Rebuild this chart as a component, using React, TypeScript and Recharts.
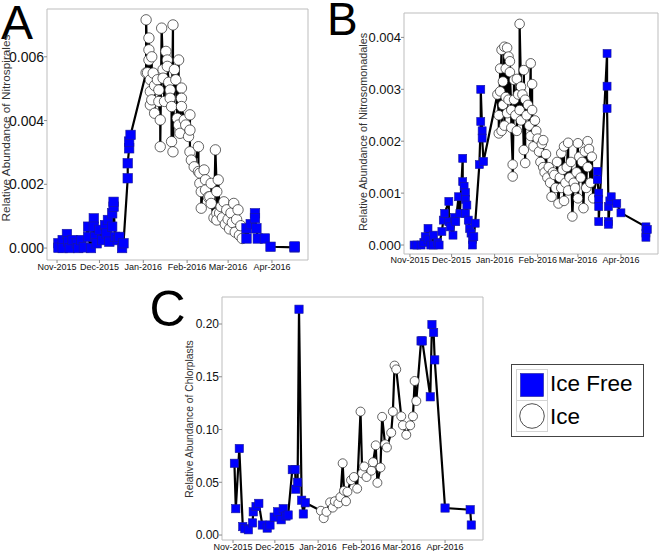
import React from "react";
import { ScatterChart, Scatter, XAxis, YAxis, ReferenceArea } from "recharts";

// x = days since 1 Nov 2015, y = relative abundance
const monthTicks = [0, 30, 61, 92, 121, 152];
const monthLabels = ["Nov-2015", "Dec-2015", "Jan-2016", "Feb-2016", "Mar-2016", "Apr-2016"];

const nitrospiralesIceFree: [number, number][] = [
  [1, 0.00015], [1, 0.00001], [4, 0.00025], [4, 0.0], [7, 0.00044], [8, 0.00021], [9, 0.0],
  [11, 0.00025], [14, 0.00015], [15, 0.0], [17, 0.00025], [19, 0.00002], [22, 0.00067], [22, 0.00035],
  [24, 0.0], [26, 0.00093], [26, 0.00067], [27, 0.00035], [28, 0.00015], [30, 0.00057], [32, 0.00025],
  [34, 0.00072], [35, 0.00046], [36, 0.00088], [37, 0.0002], [39, 0.00109], [39, 0.00067], [40, 0.0013],
  [40, 0.00145], [41, 0.00035], [43, 0.00025], [44, 0.00035], [46, 0.0], [47, 0.00015],
  [50, 0.00219], [50, 0.00266], [51, 0.00313], [51, 0.00334], [52, 0.00355],
  [134, 0.00062], [134, 0.0003], [137, 0.00075], [140, 0.00109], [140, 0.00094], [141, 0.00062],
  [142, 0.0003], [147, 0.0003], [151, 0.00004], [168, 0.00002], [168, 0.00005],
];
const nitrospiralesIce: [number, number][] = [
  [63, 0.0055], [63, 0.00716], [64, 0.0055], [65, 0.00659], [65, 0.00622], [65, 0.0059], [66, 0.00528],
  [66, 0.00491], [66, 0.00449], [67, 0.006], [67, 0.00465], [68, 0.00549], [69, 0.00423], [69, 0.0051],
  [71, 0.00528], [72, 0.00496], [72, 0.0046], [73, 0.00402], [73, 0.00318], [74, 0.0069], [75, 0.0056],
  [75, 0.00533], [76, 0.0046], [77, 0.00617], [78, 0.0059], [78, 0.0057], [79, 0.0052], [80, 0.00496],
  [80, 0.0047], [81, 0.00444], [81, 0.00334], [82, 0.007], [82, 0.00302], [83, 0.0056], [84, 0.00528],
  [85, 0.00407], [86, 0.0059], [86, 0.00386], [87, 0.0036], [88, 0.00502], [88, 0.0047], [88, 0.00444],
  [90, 0.00402], [91, 0.00386], [93, 0.0035], [94, 0.00418], [94, 0.0037], [94, 0.00302], [95, 0.00276],
  [97, 0.00255], [100, 0.00318], [100, 0.0024], [101, 0.00235], [101, 0.00203], [102, 0.00177],
  [102, 0.00125], [104, 0.00245], [105, 0.00214], [105, 0.00182], [107, 0.0016], [108, 0.00161],
  [109, 0.00203], [109, 0.0014], [111, 0.00095], [112, 0.00308], [113, 0.00177], [113, 0.00109],
  [113, 0.00088], [114, 0.00214], [115, 0.0011], [116, 0.0013], [117, 0.00095], [118, 0.00145],
  [119, 0.00075], [120, 0.0012], [121, 0.0009], [122, 0.0006], [123, 0.0011], [124, 0.0008],
  [125, 0.0014], [126, 0.0005], [127, 0.0009], [128, 0.0012], [129, 0.0004], [130, 0.0007], [131, 0.0003],
];

const nitrosomonadalesIceFree: [number, number][] = [
  [3, 0.0], [5, 0.0], [8, 0.0], [10, 0.00005], [11, 0.00016], [13, 0.00032], [13, 0.0001], [15, 0.0],
  [17, 0.00019], [17, 0.0], [20, 0.00005], [21, 0.0], [23, 0.00026], [24, 0.00048], [25, 0.00061],
  [28, 0.00084], [28, 0.00045], [29, 0.00035], [31, 0.00019], [32, 0.00053], [33, 0.00045], [35, 0.00093],
  [36, 0.00061], [38, 0.00167], [38, 0.00122], [39, 0.00113], [40, 0.00101], [40, 0.00088], [40, 0.00061],
  [41, 0.00077], [42, 0.00048], [43, 0.00032], [44, 0.00023], [45, 0.00011], [45, 0.0], [46, 0.00016],
  [47, 0.00042], [50, 0.00155], [51, 0.00238], [51, 0.003], [52, 0.0022], [52, 0.00206], [53, 0.00161],
  [135, 0.00142], [135, 0.00126], [136, 0.001], [136, 0.00088], [136, 0.00074], [136, 0.00045],
  [142, 0.00369], [142, 0.00306], [142, 0.00263], [143, 0.00074], [143, 0.00045], [143, 0.0004],
  [144, 0.00085], [145, 0.00093], [149, 0.0008], [152, 0.00062], [170, 0.00035], [170, 0.00023],
  [170, 0.00015], [171, 0.0003],
];
const nitrosomonadalesIce: [number, number][] = [
  [63, 0.0029], [64, 0.0025], [64, 0.00215], [65, 0.0034], [65, 0.00296], [66, 0.00376], [66, 0.0022],
  [67, 0.00315], [67, 0.0027], [68, 0.00382], [68, 0.0023], [69, 0.0034], [69, 0.00285], [70, 0.0038],
  [70, 0.00254], [71, 0.00363], [71, 0.0028], [72, 0.00354], [72, 0.00333], [73, 0.0026], [73, 0.00226],
  [74, 0.00155], [74, 0.00132], [75, 0.00318], [75, 0.0028], [76, 0.0025], [77, 0.0032], [77, 0.0022],
  [78, 0.0029], [79, 0.0026], [79, 0.00426], [80, 0.00305], [80, 0.0024], [81, 0.0029], [82, 0.00183],
  [82, 0.00337], [83, 0.00158], [83, 0.0028], [84, 0.0025], [85, 0.0027], [86, 0.0023], [87, 0.0035],
  [87, 0.0021], [88, 0.0031], [88, 0.0026], [89, 0.0019], [90, 0.0024], [91, 0.0022], [92, 0.00205],
  [93, 0.0018], [94, 0.0016], [95, 0.00195], [96, 0.00202], [96, 0.0015], [97, 0.0014], [98, 0.00175],
  [99, 0.0013], [100, 0.0015], [101, 0.0012], [102, 0.00093], [103, 0.0014], [104, 0.00135],
  [105, 0.0011], [106, 0.0016], [107, 0.0008], [108, 0.0013], [109, 0.00177], [109, 0.0011],
  [110, 0.00145], [111, 0.0019], [111, 0.00085], [112, 0.0012], [113, 0.0015], [114, 0.00197],
  [114, 0.00105], [115, 0.0013], [116, 0.0016], [117, 0.00055], [118, 0.0012], [119, 0.0011],
  [120, 0.0014], [121, 0.00196], [121, 0.0009], [122, 0.0017], [123, 0.0013], [124, 0.0016],
  [125, 0.00071], [126, 0.0018], [127, 0.0011], [128, 0.002], [128, 0.0015], [129, 0.00185],
  [130, 0.0012], [131, 0.0017], [132, 0.0009],
];

const chloroplastIceFree: [number, number][] = [
  [1, 0.068], [2, 0.025], [4.5, 0.082], [7, 0.008], [8.5, 0.006], [11, 0.005], [14, 0.0115], [14.5, 0.022],
  [16.5, 0.027], [18.5, 0.03], [21, 0.0095], [24.5, 0.0066], [26.5, 0.0095], [29.5, 0.017], [32, 0.022],
  [34.5, 0.0145], [36, 0.025], [38, 0.018], [39.5, 0.019], [42.5, 0.062], [44.5, 0.062], [45, 0.0435],
  [46.3, 0.05], [47.3, 0.214], [49.2, 0.033], [50.4, 0.02], [51.8, 0.0306],
  [134.8, 0.184], [135.7, 0.184], [141.4, 0.131], [142.6, 0.1995], [143.8, 0.192], [144.6, 0.166],
  [152, 0.0256], [170, 0.024], [170.8, 0.0095],
];
const chloroplastIce: [number, number][] = [
  [63, 0.023], [65, 0.016], [67, 0.022], [69.6, 0.031], [71.5, 0.026], [73, 0.032], [75.5, 0.03],
  [77, 0.036], [78.6, 0.068], [79.6, 0.042], [81, 0.032], [82, 0.041], [84.6, 0.052], [86.7, 0.055],
  [89, 0.044], [91.4, 0.117], [92.6, 0.0585], [94, 0.065], [95.7, 0.055], [99.2, 0.061], [100.4, 0.069],
  [102.3, 0.085], [103.5, 0.0495], [105.7, 0.064], [106.9, 0.112], [109, 0.086], [110.3, 0.083],
  [113.4, 0.097], [114.6, 0.117], [115.8, 0.1606], [117, 0.157], [120.6, 0.1125], [121.8, 0.104],
  [124.2, 0.095], [127, 0.104], [129, 0.1125], [130.2, 0.146], [131.4, 0.127],
];

const FONT = "'Liberation Sans', Arial, Helvetica, sans-serif";
const BLUE = "#0000ff";

const toPts = (arr: [number, number][]) => arr.map(([d, v]) => ({ d, v }));

interface PanelProps {
  left: number;
  top: number;
  width: number;
  height: number;
  marginTop: number;
  yWidth: number;
  iceFree: [number, number][];
  ice: [number, number][];
  xDomain: [number, number];
  yDomain: [number, number];
  yTicks: number[];
  digits: number;
  yFont: number;
  square: number;
  radius: number;
  tickMargin: number;
}

function Panel(p: PanelProps) {
  const all = [...p.iceFree, ...p.ice].sort((a, b) => a[0] - b[0]);
  const s = p.square;
  return (
    <div style={{ position: "absolute", left: p.left, top: p.top }}>
      <ScatterChart
        width={p.width}
        height={p.height}
        margin={{ top: p.marginTop, right: 12, bottom: 0, left: 0 }}
      >
        <XAxis
          type="number"
          dataKey="d"
          domain={p.xDomain}
          ticks={monthTicks}
          interval={0}
          allowDataOverflow
          tickFormatter={(t: number) => monthLabels[monthTicks.indexOf(t)]}
          axisLine={false}
          tickLine={{ stroke: "#8c8c8c" }}
          tickSize={3}
          tickMargin={p.tickMargin}
          height={20}
          tick={{ fontSize: 9, fill: "#111", fontFamily: FONT }}
        />
        <YAxis
          type="number"
          dataKey="v"
          domain={p.yDomain}
          ticks={p.yTicks}
          interval={0}
          allowDataOverflow
          tickFormatter={(t: number) => t.toFixed(p.digits)}
          axisLine={false}
          tickLine={{ stroke: "#8c8c8c" }}
          tickSize={3}
          tickMargin={0}
          width={p.yWidth}
          tick={{ fontSize: p.yFont, fill: "#111", fontFamily: FONT }}
        />
        <ReferenceArea
          x1={p.xDomain[0]}
          x2={p.xDomain[1]}
          y1={p.yDomain[0]}
          y2={p.yDomain[1]}
          fill="none"
          stroke="#bdbdbd"
          strokeWidth={1}
        />
        <Scatter
          data={toPts(all)}
          line={{ stroke: "#000", strokeWidth: 2.2 }}
          shape={() => <g />}
          isAnimationActive={false}
        />
        <Scatter
          data={toPts(p.ice)}
          shape={(q: any) => (
            <circle cx={q.cx} cy={q.cy} r={p.radius} fill="#fff" stroke="#222" strokeWidth={0.7} />
          )}
          isAnimationActive={false}
        />
        <Scatter
          data={toPts(p.iceFree)}
          shape={(q: any) => (
            <rect
              x={q.cx - s / 2}
              y={q.cy - s / 2}
              width={s}
              height={s}
              fill={BLUE}
              stroke="#1a1a9a"
              strokeWidth={0.6}
            />
          )}
          isAnimationActive={false}
        />
      </ScatterChart>
    </div>
  );
}

export default function App() {
  return (
    <div
      style={{
        position: "absolute",
        left: 0,
        top: 0,
        width: 659,
        height: 551,
        overflow: "hidden",
        background: "#fff",
        fontFamily: FONT,
      }}
    >
      <Panel
        left={0}
        top={0}
        width={320}
        height={280}
        marginTop={9}
        yWidth={47}
        iceFree={nitrospiralesIceFree}
        ice={nitrospiralesIce}
        xDomain={[-7.1, 177.5]}
        yDomain={[-0.000375, 0.0075]}
        yTicks={[0, 0.002, 0.004, 0.006]}
        digits={3}
        yFont={14}
        square={9.5}
        radius={5.2}
        tickMargin={1}
      />
      <Panel
        left={330}
        top={0}
        width={340}
        height={274}
        marginTop={13}
        yWidth={74}
        iceFree={nitrosomonadalesIceFree}
        ice={nitrosomonadalesIce}
        xDomain={[-4.3, 178.7]}
        yDomain={[-0.000173, 0.00447]}
        yTicks={[0, 0.001, 0.002, 0.003, 0.004]}
        digits={3}
        yFont={13}
        square={8}
        radius={4.8}
        tickMargin={0}
      />
      <Panel
        left={150}
        top={280}
        width={345}
        height={280}
        marginTop={17}
        yWidth={72}
        iceFree={chloroplastIceFree}
        ice={chloroplastIce}
        xDomain={[-7.9, 179.2]}
        yDomain={[-0.0047, 0.2256]}
        yTicks={[0, 0.05, 0.1, 0.15, 0.2]}
        digits={2}
        yFont={12}
        square={8.3}
        radius={4.5}
        tickMargin={1}
      />
      <svg
        width={659}
        height={551}
        style={{ position: "absolute", left: 0, top: 0, pointerEvents: "none" }}
        fontFamily={FONT}
      >
        <text x={1} y={39} fontSize={48} fill="#000">A</text>
        <text x={327} y={35} fontSize={46} fill="#000">B</text>
        <text x={149.5} y={326} fontSize={50} fill="#000">C</text>
        <text transform="translate(10,128) rotate(-90)" textAnchor="middle" fontSize={11.8} fill="#333">
          Relative Abundance of Nitrospirales
        </text>
        <text transform="translate(367,132) rotate(-90)" textAnchor="middle" fontSize={10.8} fill="#333">
          Relative Abundance of Nitrosomonadales
        </text>
        <text transform="translate(193,419) rotate(-90)" textAnchor="middle" fontSize={10.3} fill="#333">
          Relative Abundance of Chlorplasts
        </text>
        <rect x={511.5} y={364.5} width={132} height={72} fill="#fff" stroke="#444" strokeWidth={1} />
        <rect x={516.5} y={369.5} width={31} height={31} fill="none" stroke="#d4d4d4" />
        <rect x={516.5} y={400.5} width={31} height={31} fill="none" stroke="#d4d4d4" />
        <rect x={520.5} y={373.5} width={23} height={23} fill={BLUE} stroke="#1a1a9a" strokeWidth={0.6} />
        <circle cx={532} cy={416} r={12.3} fill="#fff" stroke="#222" strokeWidth={0.8} />
        <text x={550} y={391} fontSize={22.5} fill="#000">Ice Free</text>
        <text x={550} y={424} fontSize={22.5} fill="#000">Ice</text>
      </svg>
    </div>
  );
}
